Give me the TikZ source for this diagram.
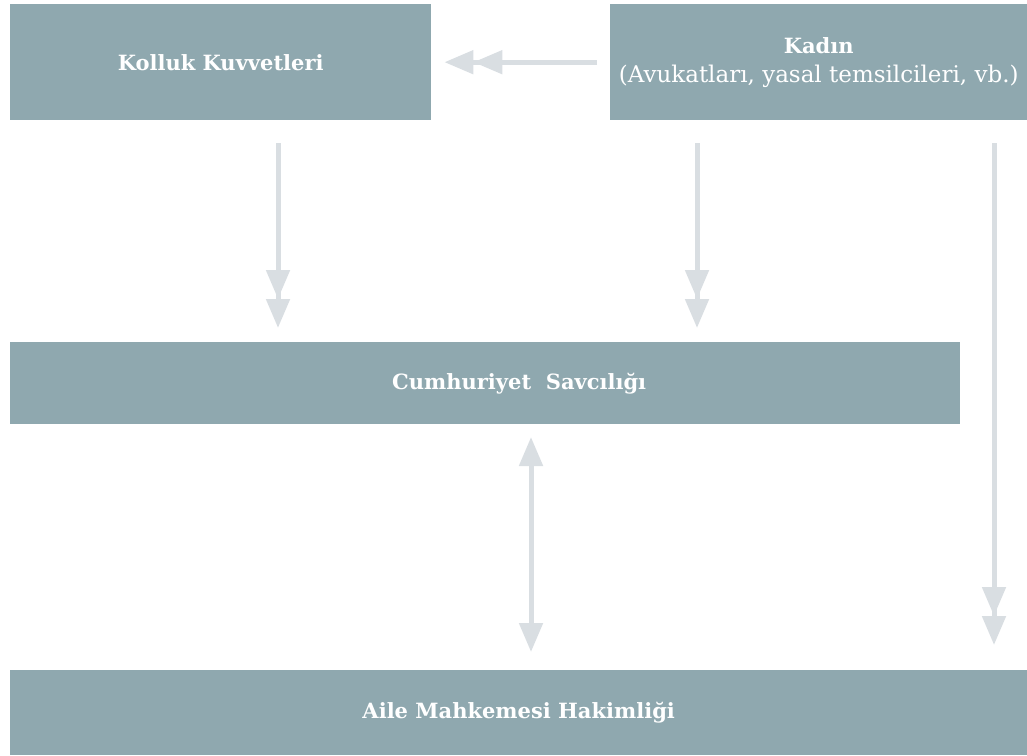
\documentclass[tikz,border=0pt]{standalone}
\usepackage{fontspec}
\setmainfont{DejaVu Serif}
\usetikzlibrary{arrows.meta}
\definecolor{boxfill}{RGB}{143,168,175}
\definecolor{arrowgray}{RGB}{217,222,226}
\tikzset{
  boxnode/.style={fill=boxfill, draw=none, inner sep=0pt, anchor=north west, text=white, align=center, font=\fontsize{21}{27}\selectfont},
  conn/.style={draw=arrowgray, line width=5pt, -{Triangle[width=23pt,length=29pt] Triangle[width=23pt,length=29pt]}},
  conn2/.style={draw=arrowgray, line width=5pt, {Triangle[width=23pt,length=29pt]}-{Triangle[width=23pt,length=29pt]}}
}
\begin{document}
\begin{tikzpicture}[x=1pt,y=-1pt]
\useasboundingbox (0,0) rectangle (1027,755);
\node[boxnode, minimum width=421pt, minimum height=116pt] (kolluk) at (10,4) {\bfseries Kolluk Kuvvetleri};
\node[boxnode, minimum width=417pt, minimum height=116pt] (kadin) at (610,4) {\bfseries Kadın\\[2pt]{\fontsize{23}{27}\selectfont(Avukatları, yasal temsilcileri, vb.)}};
\node[boxnode, minimum width=950pt, minimum height=82pt] (savci) at (10,342) {\hspace*{68pt}\bfseries Cumhuriyet\ \ Savcılığı};
\node[boxnode, minimum width=1017pt, minimum height=85pt] (aile) at (10,670) {\bfseries Aile Mahkemesi Hakimliği};
\coordinate (a1s) at (278,143);
\coordinate (a1e) at (278,328);
\coordinate (a2s) at (697,143);
\coordinate (a2e) at (697,328);
\coordinate (a3s) at (994,143);
\coordinate (a3e) at (994,645);
\coordinate (a4s) at (531,437);
\coordinate (a4e) at (531,652);
\draw[conn, shorten <=13pt, shorten >=13pt] (kadin.west) -- (kolluk.east);
\draw[conn] (a1s) -- (a1e);
\draw[conn] (a2s) -- (a2e);
\draw[conn] (a3s) -- (a3e);
\draw[conn2] (a4s) -- (a4e);
\end{tikzpicture}
\end{document}
